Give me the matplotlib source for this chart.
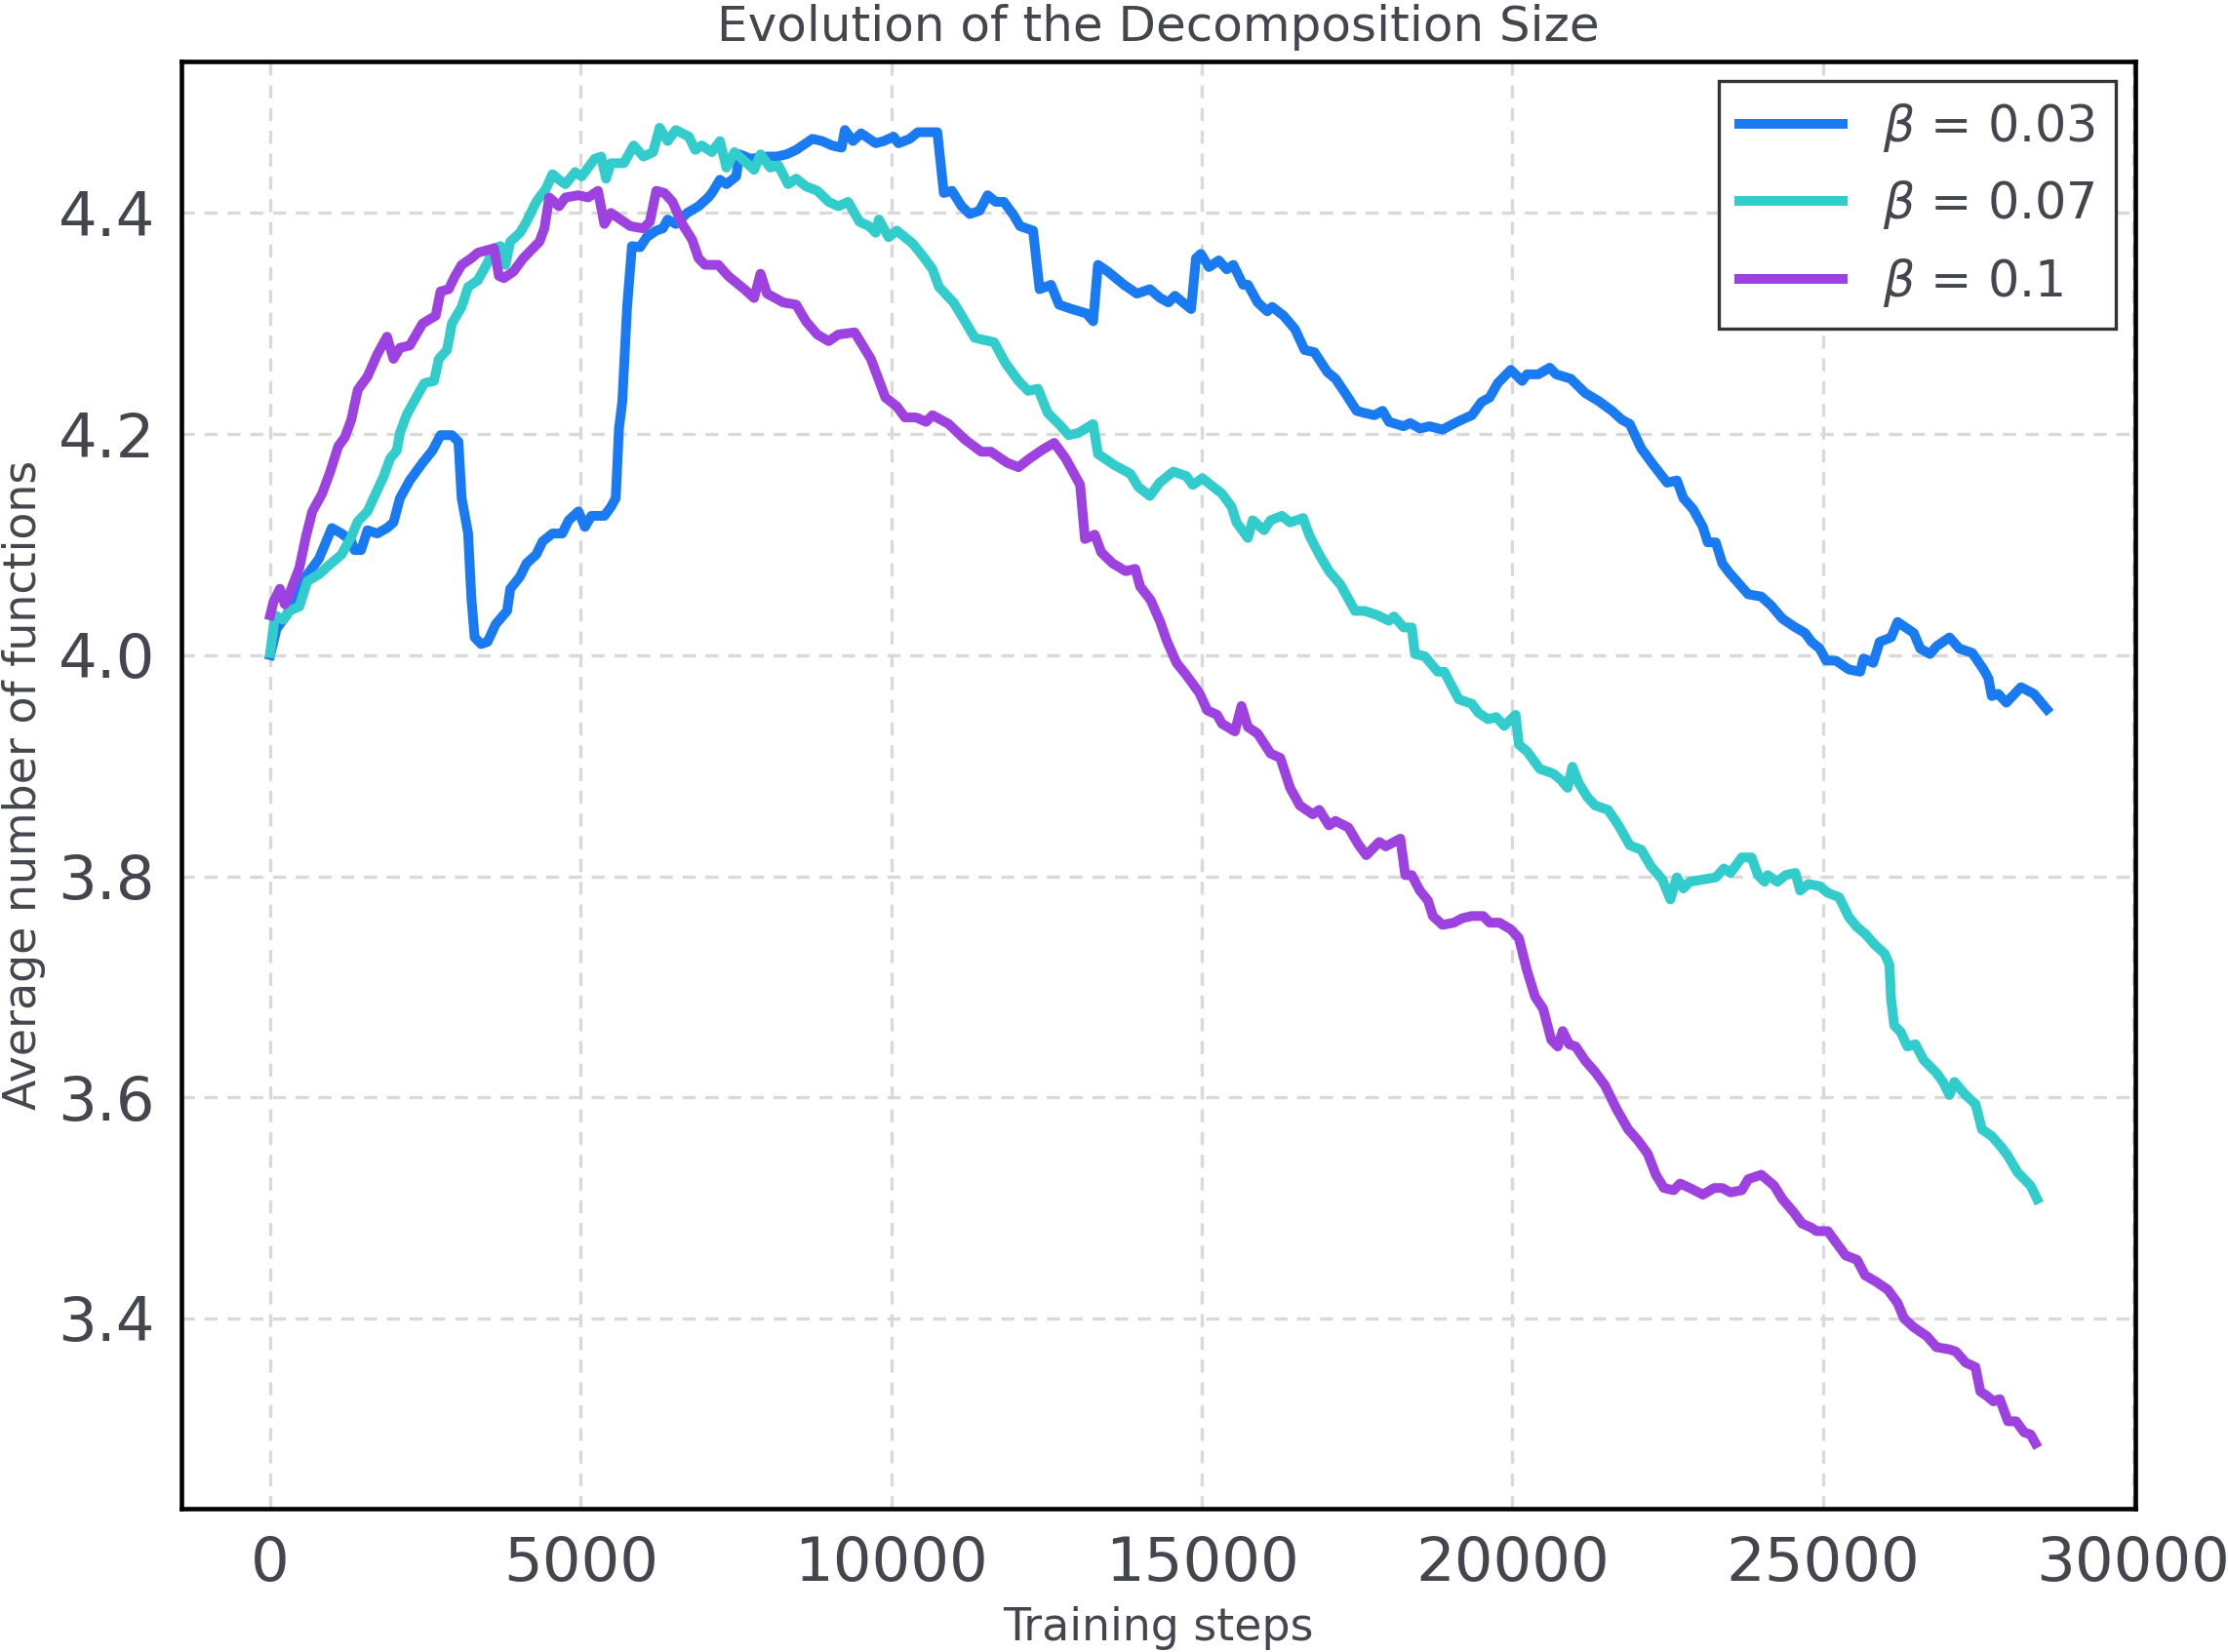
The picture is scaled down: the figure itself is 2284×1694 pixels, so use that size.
import matplotlib
matplotlib.use('Agg')
import matplotlib.pyplot as plt

# values
steps_003 = [0, 105, 261, 522, 784, 993, 1149, 1306, 1358, 1463, 1567, 1724, 1881, 1985, 2090, 2247,
             2455, 2612, 2743, 2926, 3031, 3083, 3187, 3239, 3292, 3396, 3500, 3631, 3814, 3866, 4022,
             4127, 4284, 4388, 4545, 4702, 4807, 4963, 5068, 5172, 5381, 5486, 5564, 5616, 5669, 5747,
             5825, 5956, 6061, 6217, 6322, 6400, 6531, 6714, 6897, 7054, 7111, 7242, 7346, 7503, 7555,
             7738, 7999, 8156, 8313, 8469, 8730, 8887, 9044, 9200, 9253, 9383, 9514, 9749, 9880, 10037,
             10115, 10298, 10428, 10742, 10846, 10977, 11134, 11264, 11421, 11552, 11682, 11813, 11970,
             12074, 12283, 12388, 12571, 12701, 12910, 13146, 13250, 13328, 13485, 13746, 13955, 14164,
             14331, 14462, 14567, 14697, 14828, 14906, 14984, 15115, 15272, 15402, 15507, 15664, 15742,
             15899, 16055, 16134, 16316, 16499, 16656, 16813, 17022, 17152, 17309, 17492, 17622, 17779,
             17910, 18014, 18249, 18354, 18511, 18667, 18876, 19112, 19347, 19504, 19634, 19765, 19974,
             20157, 20235, 20418, 20601, 20705, 20940, 21175, 21384, 21604, 21761, 21891, 22074, 22257,
             22492, 22649, 22753, 22910, 23067, 23145, 23276, 23380, 23485, 23642, 23798, 24007, 24164,
             24347, 24530, 24713, 24817, 24948, 25052, 25209, 25418, 25601, 25653, 25810, 25914, 26097,
             26202, 26463, 26567, 26724, 26829, 27038, 27195, 27404, 27587, 27665, 27718, 27822, 27953,
             28188, 28397, 28606]
vals_003 = [4.000, 4.024, 4.036, 4.067, 4.087, 4.115, 4.110, 4.103, 4.095, 4.095, 4.113, 4.110, 4.115,
            4.120, 4.142, 4.158, 4.174, 4.185, 4.199, 4.199, 4.193, 4.142, 4.110, 4.052, 4.016, 4.010,
            4.012, 4.028, 4.040, 4.060, 4.071, 4.083, 4.091, 4.103, 4.110, 4.110, 4.122, 4.130, 4.116,
            4.126, 4.126, 4.134, 4.142, 4.205, 4.229, 4.315, 4.370, 4.369, 4.378, 4.384, 4.386, 4.394,
            4.390, 4.400, 4.406, 4.414, 4.418, 4.430, 4.426, 4.433, 4.453, 4.449, 4.451, 4.451, 4.453,
            4.457, 4.467, 4.465, 4.461, 4.459, 4.475, 4.465, 4.472, 4.463, 4.465, 4.469, 4.463, 4.467,
            4.473, 4.473, 4.418, 4.420, 4.406, 4.399, 4.402, 4.416, 4.410, 4.410, 4.398, 4.388, 4.384,
            4.331, 4.335, 4.317, 4.313, 4.309, 4.302, 4.353, 4.347, 4.335, 4.327, 4.331, 4.323, 4.319,
            4.325, 4.319, 4.313, 4.359, 4.363, 4.351, 4.357, 4.349, 4.353, 4.335, 4.335, 4.319, 4.311,
            4.315, 4.307, 4.295, 4.276, 4.274, 4.256, 4.250, 4.237, 4.221, 4.219, 4.217, 4.221, 4.211,
            4.207, 4.210, 4.205, 4.207, 4.204, 4.211, 4.217, 4.229, 4.233, 4.246, 4.258, 4.248, 4.254,
            4.254, 4.260, 4.254, 4.250, 4.237, 4.230, 4.221, 4.213, 4.209, 4.187, 4.173, 4.156, 4.158,
            4.142, 4.132, 4.116, 4.102, 4.102, 4.083, 4.075, 4.065, 4.055, 4.053, 4.045, 4.033, 4.026,
            4.020, 4.012, 4.006, 3.995, 3.995, 3.987, 3.985, 3.997, 3.993, 4.012, 4.016, 4.030, 4.020,
            4.006, 4.001, 4.008, 4.016, 4.006, 4.002, 3.987, 3.979, 3.963, 3.965, 3.957, 3.971, 3.965,
            3.951]

steps_007 = [0, 78, 209, 313, 470, 601, 784, 940, 1149, 1306, 1411, 1567, 1698, 1829, 1933, 2038, 2090,
             2194, 2351, 2482, 2638, 2717, 2847, 2926, 3083, 3187, 3344, 3500, 3605, 3709, 3788, 3866,
             4022, 4127, 4284, 4441, 4545, 4650, 4754, 4911, 5016, 5225, 5329, 5408, 5486, 5695, 5852,
             6009, 6165, 6270, 6400, 6531, 6740, 6844, 6949, 7111, 7242, 7346, 7477, 7634, 7791, 7895,
             8052, 8182, 8339, 8469, 8626, 8809, 8992, 9148, 9305, 9488, 9645, 9749, 9801, 9958, 10089,
             10350, 10507, 10664, 10768, 11003, 11134, 11343, 11657, 11840, 12049, 12205, 12362, 12519,
             12701, 12858, 13015, 13250, 13328, 13589, 13850, 13981, 14164, 14321, 14540, 14749, 14854,
             15010, 15324, 15481, 15559, 15742, 15820, 16003, 16107, 16290, 16421, 16630, 16734, 16890,
             17047, 17230, 17309, 17466, 17622, 17831, 18014, 18093, 18249, 18380, 18432, 18589, 18798,
             18903, 19138, 19347, 19452, 19608, 19739, 19869, 20052, 20105, 20235, 20444, 20653, 20784,
             20888, 20967, 21071, 21202, 21332, 21541, 21709, 21891, 22074, 22231, 22414, 22544, 22649,
             22753, 22858, 23067, 23276, 23406, 23511, 23694, 23851, 23955, 24060, 24112, 24268, 24399,
             24556, 24634, 24765, 24948, 25078, 25261, 25418, 25549, 25679, 25836, 25993, 26071, 26097,
             26149, 26254, 26358, 26489, 26620, 26829, 26933, 27038, 27116, 27299, 27456, 27561, 27717,
             27874, 27979, 28136, 28345, 28449]
vals_007 = [4.002, 4.036, 4.032, 4.040, 4.044, 4.067, 4.073, 4.081, 4.091, 4.107, 4.121, 4.130, 4.146,
            4.162, 4.178, 4.185, 4.201, 4.217, 4.233, 4.246, 4.248, 4.268, 4.276, 4.300, 4.315, 4.333,
            4.339, 4.355, 4.368, 4.370, 4.353, 4.374, 4.382, 4.392, 4.410, 4.422, 4.435, 4.430, 4.426,
            4.437, 4.433, 4.449, 4.451, 4.431, 4.445, 4.445, 4.461, 4.451, 4.455, 4.477, 4.465, 4.475,
            4.469, 4.457, 4.461, 4.455, 4.465, 4.441, 4.455, 4.447, 4.439, 4.453, 4.441, 4.443, 4.426,
            4.431, 4.424, 4.420, 4.410, 4.406, 4.410, 4.392, 4.388, 4.382, 4.394, 4.378, 4.384, 4.372,
            4.361, 4.349, 4.333, 4.319, 4.307, 4.287, 4.283, 4.264, 4.248, 4.239, 4.241, 4.219, 4.209,
            4.199, 4.201, 4.209, 4.182, 4.172, 4.164, 4.152, 4.144, 4.156, 4.166, 4.162, 4.154, 4.160,
            4.146, 4.134, 4.120, 4.106, 4.122, 4.113, 4.122, 4.126, 4.120, 4.124, 4.108, 4.091, 4.076,
            4.064, 4.056, 4.040, 4.040, 4.036, 4.031, 4.035, 4.025, 4.025, 4.001, 3.999, 3.985, 3.985,
            3.960, 3.956, 3.948, 3.942, 3.944, 3.936, 3.946, 3.919, 3.913, 3.897, 3.893, 3.887, 3.880,
            3.899, 3.884, 3.872, 3.864, 3.860, 3.846, 3.828, 3.824, 3.809, 3.797, 3.779, 3.799, 3.789,
            3.795, 3.797, 3.799, 3.807, 3.803, 3.817, 3.817, 3.801, 3.795, 3.801, 3.795, 3.801, 3.803,
            3.787, 3.793, 3.791, 3.785, 3.781, 3.763, 3.754, 3.748, 3.738, 3.730, 3.720, 3.689, 3.665,
            3.659, 3.646, 3.648, 3.634, 3.622, 3.614, 3.602, 3.614, 3.602, 3.594, 3.571, 3.565, 3.555,
            3.547, 3.532, 3.520, 3.508]

steps_01 = [0, 52, 157, 235, 313, 470, 575, 679, 836, 967, 1097, 1202, 1306, 1411, 1567, 1724, 1881,
            1985, 2090, 2247, 2455, 2665, 2743, 2874, 2978, 3083, 3239, 3344, 3605, 3683, 3762, 3918,
            4075, 4232, 4336, 4415, 4493, 4650, 4754, 4963, 5120, 5277, 5381, 5486, 5643, 5799, 6009,
            6113, 6217, 6348, 6478, 6635, 6792, 6897, 7001, 7216, 7373, 7634, 7791, 7895, 7999, 8261,
            8469, 8626, 8809, 8992, 9148, 9410, 9671, 9906, 10089, 10220, 10403, 10559, 10664, 10925,
            11186, 11448, 11604, 11866, 12049, 12231, 12440, 12623, 12806, 13041, 13119, 13276, 13381,
            13564, 13773, 13929, 14007, 14174, 14331, 14436, 14593, 14750, 14958, 15089, 15246, 15324,
            15533, 15638, 15742, 15899, 16107, 16264, 16421, 16578, 16787, 16891, 17047, 17152, 17361,
            17518, 17648, 17857, 17962, 18197, 18276, 18380, 18511, 18641, 18720, 18876, 19060, 19191,
            19347, 19530, 19634, 19791, 19974, 20105, 20235, 20366, 20496, 20627, 20731, 20810, 20914,
            21019, 21175, 21332, 21489, 21672, 21865, 22022, 22179, 22310, 22440, 22597, 22701, 22858,
            23067, 23250, 23380, 23511, 23694, 23798, 24007, 24216, 24347, 24530, 24660, 24817, 24896,
            25078, 25235, 25366, 25549, 25679, 25862, 26045, 26202, 26306, 26463, 26672, 26829, 27038,
            27142, 27299, 27456, 27535, 27639, 27744, 27848, 27979, 28109, 28240, 28345, 28423]
vals_01 = [4.036, 4.048, 4.060, 4.046, 4.056, 4.079, 4.107, 4.130, 4.146, 4.166, 4.189, 4.197, 4.213,
           4.240, 4.252, 4.272, 4.288, 4.268, 4.278, 4.280, 4.300, 4.307, 4.329, 4.331, 4.343, 4.353,
           4.359, 4.364, 4.368, 4.343, 4.341, 4.347, 4.359, 4.368, 4.374, 4.386, 4.414, 4.406, 4.414,
           4.416, 4.414, 4.420, 4.390, 4.400, 4.394, 4.388, 4.386, 4.392, 4.420, 4.418, 4.410, 4.390,
           4.376, 4.359, 4.353, 4.353, 4.343, 4.331, 4.323, 4.345, 4.327, 4.319, 4.317, 4.302, 4.290,
           4.284, 4.290, 4.292, 4.268, 4.233, 4.225, 4.215, 4.215, 4.211, 4.217, 4.209, 4.195, 4.184,
           4.184, 4.174, 4.170, 4.178, 4.186, 4.192, 4.178, 4.154, 4.105, 4.109, 4.093, 4.083, 4.076,
           4.078, 4.062, 4.050, 4.030, 4.013, 3.993, 3.982, 3.966, 3.950, 3.946, 3.938, 3.931, 3.954,
           3.935, 3.929, 3.911, 3.907, 3.880, 3.864, 3.856, 3.860, 3.846, 3.850, 3.844, 3.829, 3.819,
           3.831, 3.827, 3.834, 3.801, 3.801, 3.787, 3.778, 3.764, 3.756, 3.758, 3.762, 3.764, 3.764,
           3.758, 3.758, 3.752, 3.744, 3.715, 3.691, 3.680, 3.652, 3.646, 3.660, 3.648, 3.646, 3.633,
           3.623, 3.611, 3.590, 3.571, 3.561, 3.549, 3.530, 3.518, 3.516, 3.522, 3.518, 3.512, 3.518,
           3.518, 3.514, 3.516, 3.526, 3.530, 3.520, 3.508, 3.496, 3.486, 3.482, 3.479, 3.479, 3.467,
           3.457, 3.453, 3.439, 3.433, 3.426, 3.414, 3.400, 3.392, 3.384, 3.374, 3.372, 3.370, 3.360,
           3.356, 3.334, 3.330, 3.325, 3.327, 3.307, 3.307, 3.297, 3.295, 3.287]

labels = [r'$\beta$ = 0.03', r'$\beta$ = 0.07', r'$\beta$ = 0.1']
colors = ['#1a7af2', '#33cccc', '#9d42e0']
yticks = [3.4, 3.6, 3.8, 4.0, 4.2, 4.4]
xticks = [0, 5000, 10000, 15000, 20000, 25000, 30000]

text_color = '#43474d'

fig = plt.figure(figsize=(2284 / 300, 1694 / 300), dpi=300)
ax = fig.add_axes([0.0814, 0.0868, 0.877, 0.876])

for xs, ys, lab, c in zip([steps_003, steps_007, steps_01],
                          [vals_003, vals_007, vals_01], labels, colors):
    ax.plot(xs, ys, color=c, lw=2.4, label=lab)

ax.set_xticks(xticks)
ax.set_yticks(yticks)
ax.set_xlim(-1430, 30030)
ax.set_ylim(3.228, 4.537)
ax.grid(True, color='#d9d9d9', ls=(0, (4, 3)), lw=0.8)
ax.set_axisbelow(True)
ax.tick_params(length=0, pad=6.5, labelsize=15, labelcolor=text_color)
for s in ax.spines.values():
    s.set_color('black')
    s.set_linewidth(1.1)

ax.set_title('Evolution of the Decomposition Size', fontsize=12, color=text_color, pad=5)
ax.set_xlabel('Training steps', fontsize=11, color=text_color, labelpad=3)
ax.set_ylabel('Average number of functions', fontsize=11, color=text_color, labelpad=3)

leg = ax.legend(loc='upper right', fontsize=12.2, fancybox=False, framealpha=1,
                edgecolor='#333333', borderaxespad=0.4, handlelength=2.1)
leg.get_frame().set_linewidth(0.8)
for t in leg.get_texts():
    t.set_color(text_color)

fig.savefig('out.png', dpi=300)
